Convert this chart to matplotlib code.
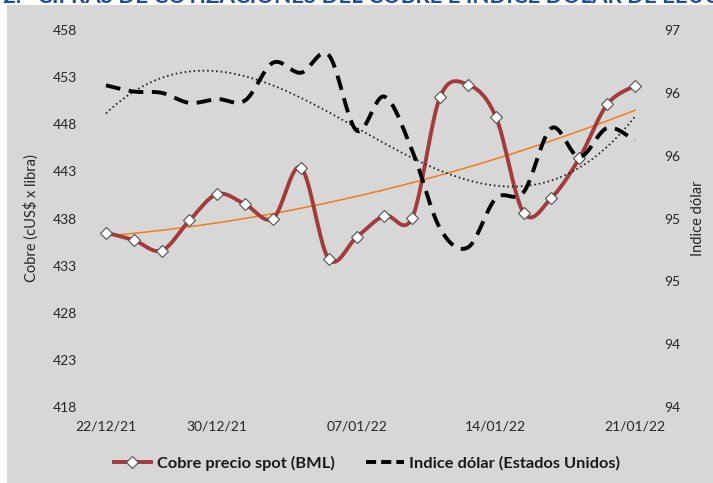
import numpy as np
import matplotlib
matplotlib.use("Agg")
import matplotlib.pyplot as plt
from matplotlib.lines import Line2D
from matplotlib.patches import Rectangle
from matplotlib.ticker import FixedLocator, FuncFormatter

plt.rcParams['font.family'] = ['Lato', 'DejaVu Sans']

# trading days (LME) shown on a category axis
dates = ["22/12/21", "23/12/21", "24/12/21", "29/12/21", "30/12/21",
         "31/12/21", "04/01/22", "05/01/22", "06/01/22", "07/01/22",
         "10/01/22", "11/01/22", "12/01/22", "13/01/22", "14/01/22",
         "17/01/22", "18/01/22", "19/01/22", "20/01/22", "21/01/22"]
cobre = [436.5, 435.7, 434.6, 437.8, 440.6, 439.5, 438.0, 443.4, 433.7, 436.0,
         438.3, 438.1, 450.9, 452.2, 448.8, 438.6, 440.2, 444.4, 450.1, 452.1]
dolar = [96.56, 96.51, 96.50, 96.42, 96.45, 96.44, 96.74, 96.66, 96.80, 96.20,
         96.47, 96.04, 95.42, 95.27, 95.66, 95.71, 96.22, 95.99, 96.22, 96.12]
xlabels_idx = [0, 4, 9, 14, 19]

def smooth(y, steps=24):
    # Excel-like smoothed line (Catmull-Rom bezier)
    y = np.asarray(y, float)
    x = np.arange(len(y), dtype=float)
    pts = np.column_stack([x, y])
    out = []
    t = np.linspace(0, 1, steps)[:, None]
    for i in range(len(pts) - 1):
        p0 = pts[max(i - 1, 0)]
        p1 = pts[i]
        p2 = pts[i + 1]
        p3 = pts[min(i + 2, len(pts) - 1)]
        c1 = p1 + (p2 - p0) / 6
        c2 = p2 - (p3 - p1) / 6
        seg = ((1 - t) ** 3) * p1 + 3 * ((1 - t) ** 2) * t * c1 + 3 * (1 - t) * t ** 2 * c2 + t ** 3 * p2
        out.append(seg if i == 0 else seg[1:])
    seg = np.vstack(out)
    return seg[:, 0], seg[:, 1]

fig = plt.figure(figsize=(7.13, 4.83), dpi=100, facecolor='white')
bg = Rectangle((7 / 713, 0), 1, 1 - 5 / 483, transform=fig.transFigure,
               facecolor='#d7d7d7', edgecolor='none', zorder=-5)
fig.add_artist(bg)
# title of the page, only its lower edge is visible in the crop
fig.text(3 / 713, 1 - 3 / 483, "2.   CIFRAS DE COTIZACIONES DEL COBRE E INDICE DÓLAR DE EEUU",
         color='#1f4e99', fontsize=16, fontweight='bold', va='baseline', ha='left', zorder=-4)

ax = fig.add_axes([99 / 713, 76 / 483, 543 / 713, 377 / 483])
ax2 = ax.twinx()
for a in (ax, ax2):
    a.set_facecolor('none')
    for s in a.spines.values():
        s.set_visible(False)
    a.tick_params(length=0, labelsize=10, colors='#262626')

x = np.arange(len(cobre))

# copper
xs, ys = smooth(cobre)
ax.plot(xs, ys, color='#a33b3b', lw=2.8, solid_capstyle='round', zorder=3)
ax.plot(x, cobre, ls='none', marker='D', ms=6.5, mfc='white', mec='#505050', mew=0.8, zorder=4)
ct = np.polyval(np.polyfit(x, cobre, 2), xs)
ax.plot(xs, ct, color='#f07d1a', lw=1.1, zorder=2)

# dollar
xd, yd = smooth(dolar)
ax2.plot(xd, yd, color='black', lw=2.8, ls=(0, (3.8, 2.2)), zorder=3)
dt = np.polyval(np.polyfit(x, dolar, 3), xd)
ax2.plot(xd, dt, color='#222222', lw=1.3, ls=(0, (0.9, 1.6)), zorder=2)

ax.set_xlim(-0.25, len(cobre) - 0.75)
ax.set_ylim(418, 458)
ax.set_yticks(np.arange(418, 459, 5))
ax2.set_ylim(94, 97)
ax2.yaxis.set_major_locator(FixedLocator(np.arange(94, 97.01, 0.5)))
ax2.yaxis.set_major_formatter(FuncFormatter(lambda v, p: str(int(np.floor(v + 1e-9)))))
ax.set_xticks(xlabels_idx)
ax.set_xticklabels([dates[i] for i in xlabels_idx])
ax.tick_params(axis='x', pad=10)
ax.tick_params(axis='y', pad=16)
ax2.tick_params(axis='y', pad=16)

ax.set_ylabel("Cobre (cUS$ x libra)", fontsize=10.5, color='#262626', labelpad=10)
ax2.set_ylabel("Indice dólar", fontsize=10.5, color='#262626', labelpad=8)

handles = [
    Line2D([], [], color='#a33b3b', lw=2.8, marker='D', ms=6, mfc='white', mec='#505050', mew=0.8),
    Line2D([], [], color='black', lw=2.8, ls=(0, (2.6, 1.3))),
]
fig.legend(handles, ["Cobre precio spot (BML)", "Indice dólar (Estados Unidos)"],
           loc='center', bbox_to_anchor=(367 / 713, 1 - 463 / 483), ncol=2, frameon=False,
           prop={'weight': 'bold', 'size': 11.8}, handlelength=2.3, columnspacing=1.9,
           handletextpad=0.35, labelcolor='#1a1a1a')

fig.savefig("out.png", dpi=100, facecolor=fig.get_facecolor())
